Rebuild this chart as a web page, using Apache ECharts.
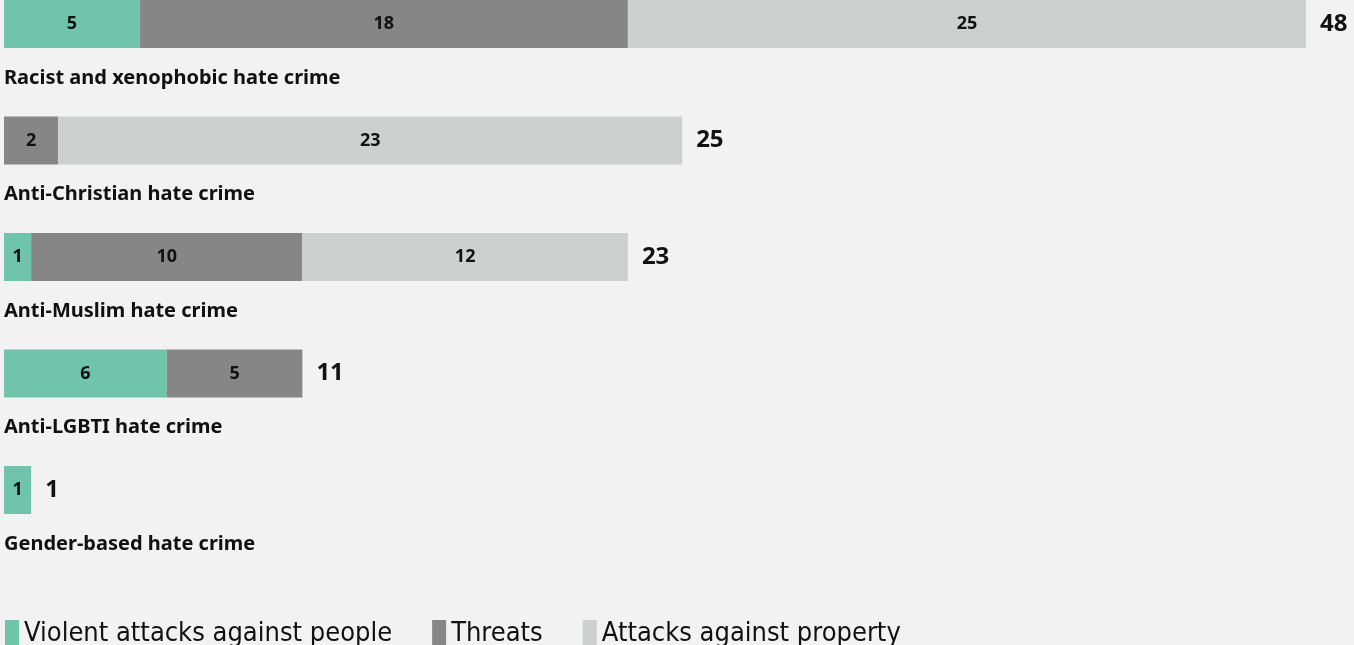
<!DOCTYPE html>
<html>
<head>
<meta charset="utf-8">
<script src="https://cdn.jsdelivr.net/npm/echarts@6/dist/echarts.min.js"></script>
<style>
  html, body { margin: 0; padding: 0; background: #f2f2f2; }
  #chart { width: 1354px; height: 645px; }
</style>
</head>
<body>
<div id="chart"></div>
<script>
const categories = [
    'Racist and xenophobic hate crime',
    'Anti-Christian hate crime',
    'Anti-Muslim hate crime',
    'Anti-LGBTI hate crime',
    'Gender-based hate crime'
];
const violent = [5, 0, 1, 6, 1];
const threats = [18, 2, 10, 5, 0];
const property = [25, 23, 12, 0, 0];
const seriesNames = ['Violent attacks against people', 'Threats', 'Attacks against property'];
const colors = ['#70c4ab', '#868686', '#cdd0cf'];

// totals shown at the end of each bar
const totals = categories.map((c, i) => violent[i] + threats[i] + property[i]);

const chart = echarts.init(document.getElementById('chart'));

function part(name, data, color) {
    return {
        name: name,
        type: 'bar',
        stack: 'all',
        barWidth: 48,
        data: data,
        itemStyle: { color: color },
        label: {
            show: true,
            position: 'inside',
            color: '#111',
            fontFamily: 'Noto Sans',
            fontWeight: 'bold',
            fontSize: 18,
            formatter: p => (p.value ? p.value : '')
        },
        emphasis: { disabled: true }
    };
}

const option = {
    backgroundColor: '#f2f2f2',
    animation: false,
    grid: { left: 4, right: 48, top: 24, bottom: 155, containLabel: false },
    xAxis: { type: 'value', min: 0, max: 48, show: false },
    yAxis: {
        type: 'category',
        inverse: true,
        boundaryGap: false,
        data: categories,
        show: false
    },
    legend: {
        data: seriesNames,
        left: 0,
        top: 615,
        icon: 'rect',
        itemWidth: 14,
        itemHeight: 28,
        itemGap: 40,
        textStyle: {
            color: '#111',
            fontFamily: 'DejaVu Sans Condensed',
            fontSize: 27
        }
    },
    series: [
        part(seriesNames[0], violent, colors[0]),
        part(seriesNames[1], threats, colors[1]),
        part(seriesNames[2], property, colors[2]),
        {
            name: 'total',
            type: 'bar',
            stack: 'all',
            barWidth: 48,
            data: totals.map(() => 0),
            itemStyle: { color: 'transparent' },
            label: {
                show: true,
                position: 'right',
                distance: 14,
                color: '#111',
                fontFamily: 'Noto Sans',
                fontWeight: 'bold',
                fontSize: 24,
                formatter: p => totals[p.dataIndex]
            },
            emphasis: { disabled: true }
        },
        {
            // category names drawn under each bar
            name: 'names',
            type: 'bar',
            stack: 'names',
            barGap: '-100%',
            barWidth: 48,
            data: categories.map(() => 0),
            itemStyle: { color: 'transparent' },
            label: {
                show: true,
                position: [0, 78],
                align: 'left',
                verticalAlign: 'middle',
                color: '#111',
                fontFamily: 'Noto Sans',
                fontWeight: 'bold',
                fontSize: 20,
                formatter: p => categories[p.dataIndex]
            },
            emphasis: { disabled: true }
        }
    ]
};

chart.setOption(option);
</script>
</body>
</html>
